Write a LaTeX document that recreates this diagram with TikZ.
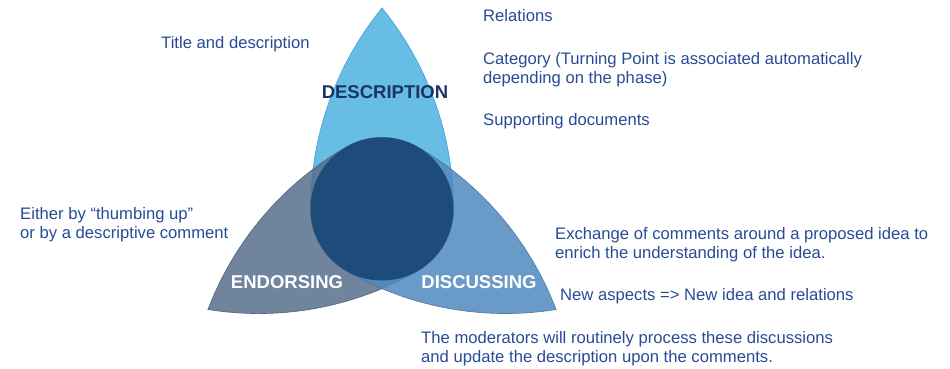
\documentclass[tikz,border=0pt]{standalone}
\usepackage{fontspec}
\setmainfont{Liberation Sans}
\definecolor{txtblue}{RGB}{40,75,150}
\definecolor{descnavy}{RGB}{28,52,100}
\definecolor{descfill}{RGB}{77,177,223}
\definecolor{descedge}{RGB}{50,150,215}
\definecolor{endofill}{RGB}{87,110,141}
\definecolor{discfill}{RGB}{80,137,190}
\definecolor{corefill}{RGB}{30,76,122}
\begin{document}
\begin{tikzpicture}[x=1pt,y=1pt,
  txt/.style={anchor=base west, inner sep=0pt, text=txtblue, font=\fontsize{16.65}{19}\selectfont},
  lbl/.style={anchor=base, inner sep=0pt, font=\bfseries\fontsize{18.5}{22}\selectfont},
  petalpath/.style={fill opacity=0.85, draw opacity=0.85, line width=0.6pt}]
\useasboundingbox (0,0) rectangle (950,368);
% petals (teardrops around the central circle)
\begin{scope}[shift={(382,159)}, rotate=0]
  \filldraw[petalpath, fill=descfill, draw=descedge] (0,201) arc[start angle=140.84, end angle=180, radius=318.3]
    arc[start angle=180, end angle=360, radius=71.5] arc[start angle=0, end angle=39.16, radius=318.3] -- cycle;
\end{scope}
\begin{scope}[shift={(382,159)}, rotate=120]
  \filldraw[petalpath, fill=endofill, draw=endofill!80!black] (0,201) arc[start angle=140.84, end angle=180, radius=318.3]
    arc[start angle=180, end angle=360, radius=71.5] arc[start angle=0, end angle=39.16, radius=318.3] -- cycle;
\end{scope}
\begin{scope}[shift={(382,159)}, rotate=-120]
  \filldraw[petalpath, fill=discfill, draw=discfill!80!black] (0,201) arc[start angle=140.84, end angle=180, radius=318.3]
    arc[start angle=180, end angle=360, radius=71.5] arc[start angle=0, end angle=39.16, radius=318.3] -- cycle;
\end{scope}
\fill[corefill] (382,159) circle[radius=71.5];
% labels
\node[lbl, text=descnavy] (ldesc) at (385,270) {DESCRIPTION};
\node[lbl, text=white] (lendo) at (287,80) {ENDORSING};
\node[lbl, text=white] (ldisc) at (479,80) {DISCUSSING};
% texts
\node[txt] (t1) at (161,320) {Title and description};
\node[txt] (t2) at (483,346.3) {Relations};
\node[txt] (t3) at (483,304) {Category (Turning Point is associated automatically};
\node[txt] (t4) at (483,285) {depending on the phase)};
\node[txt] (t5) at (483,243) {Supporting documents};
\node[txt] (t6) at (20,149) {Either by “thumbing up”};
\node[txt] (t7) at (20,130) {or by a descriptive comment};
\node[txt] (t8) at (555,129) {Exchange of comments around a proposed idea to};
\node[txt] (t9) at (555,110) {enrich the understanding of the idea.};
\node[txt] (t10) at (560,67.5) {New aspects => New idea and relations};
\node[txt] (t11) at (421,25) {The moderators will routinely process these discussions};
\node[txt] (t12) at (421,5.5) {and update the description upon the comments.};
\end{tikzpicture}
\end{document}
